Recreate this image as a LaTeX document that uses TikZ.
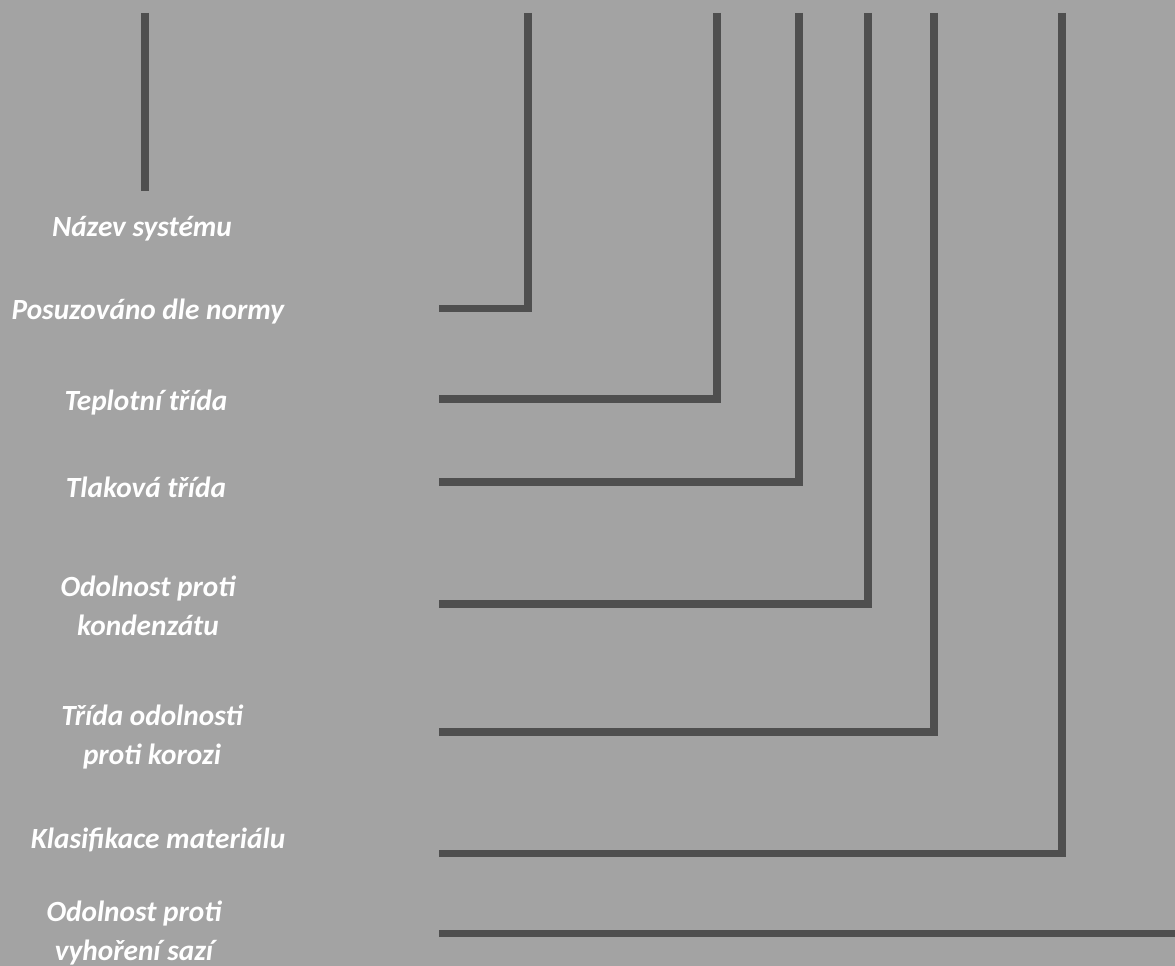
\documentclass[tikz,border=0pt]{standalone}
\usepackage{fontspec}
\setmainfont{Carlito}
\usepackage{tikz}
\usetikzlibrary{positioning}

\definecolor{bggray}{HTML}{A3A3A3}
\definecolor{leadgray}{HTML}{4F4F4F}

\begin{document}
\begin{tikzpicture}[
  x=1pt, y=-1pt,
  label/.style={text=white, align=center, inner sep=0pt,
    font=\fontsize{29.3}{39}\selectfont\bfseries\itshape},
  lead/.style={draw=leadgray, line width=7.5pt, line cap=butt, line join=miter},
]
  % background / canvas
  \fill[bggray] (0,0) rectangle (1175,966);
  \useasboundingbox (0,0) rectangle (1175,966);

  % Labels on the left
  \node[label] (name) at (142,229) {Název systému};
  \node[label] (norm) at (148,312) {Posuzováno dle normy};
  \node[label] (temp) at (146,403) {Teplotní třída};
  \node[label] (pres) at (146,487) {Tlaková třída};
  \node[label] (cond) at (148,606) {Odolnost proti\\kondenzátu};
  \node[label] (corr) at (152,737) {Třída odolnosti\\proti korozi};
  \node[label] (matl) at (158,840) {Klasifikace materiálu};
  \node[label] (soot) at (134,933) {Odolnost proti\\vyhoření sazí};

  % first lead, straight down
  \coordinate (topname) at (145,13);
  \coordinate (endname) at (145,191);
  \draw[lead] (topname) -- (endname);

  % elbow leads
  \foreach \x/\y/\n in {528/308.5/norm, 717/399/temp, 799/482/pres,
                        868/604/cond, 934/732/corr, 1062/853.5/matl} {
    \coordinate (top\n) at (\x,13);
    \coordinate (end\n) at (439,\y);
    \draw[lead] (top\n) |- (end\n);
  }

  % last lead, runs off the right edge
  \coordinate (startsoot) at (439,933.5);
  \coordinate (endsoot) at (1175,933.5);
  \draw[lead] (startsoot) -- (endsoot);
\end{tikzpicture}
\end{document}
